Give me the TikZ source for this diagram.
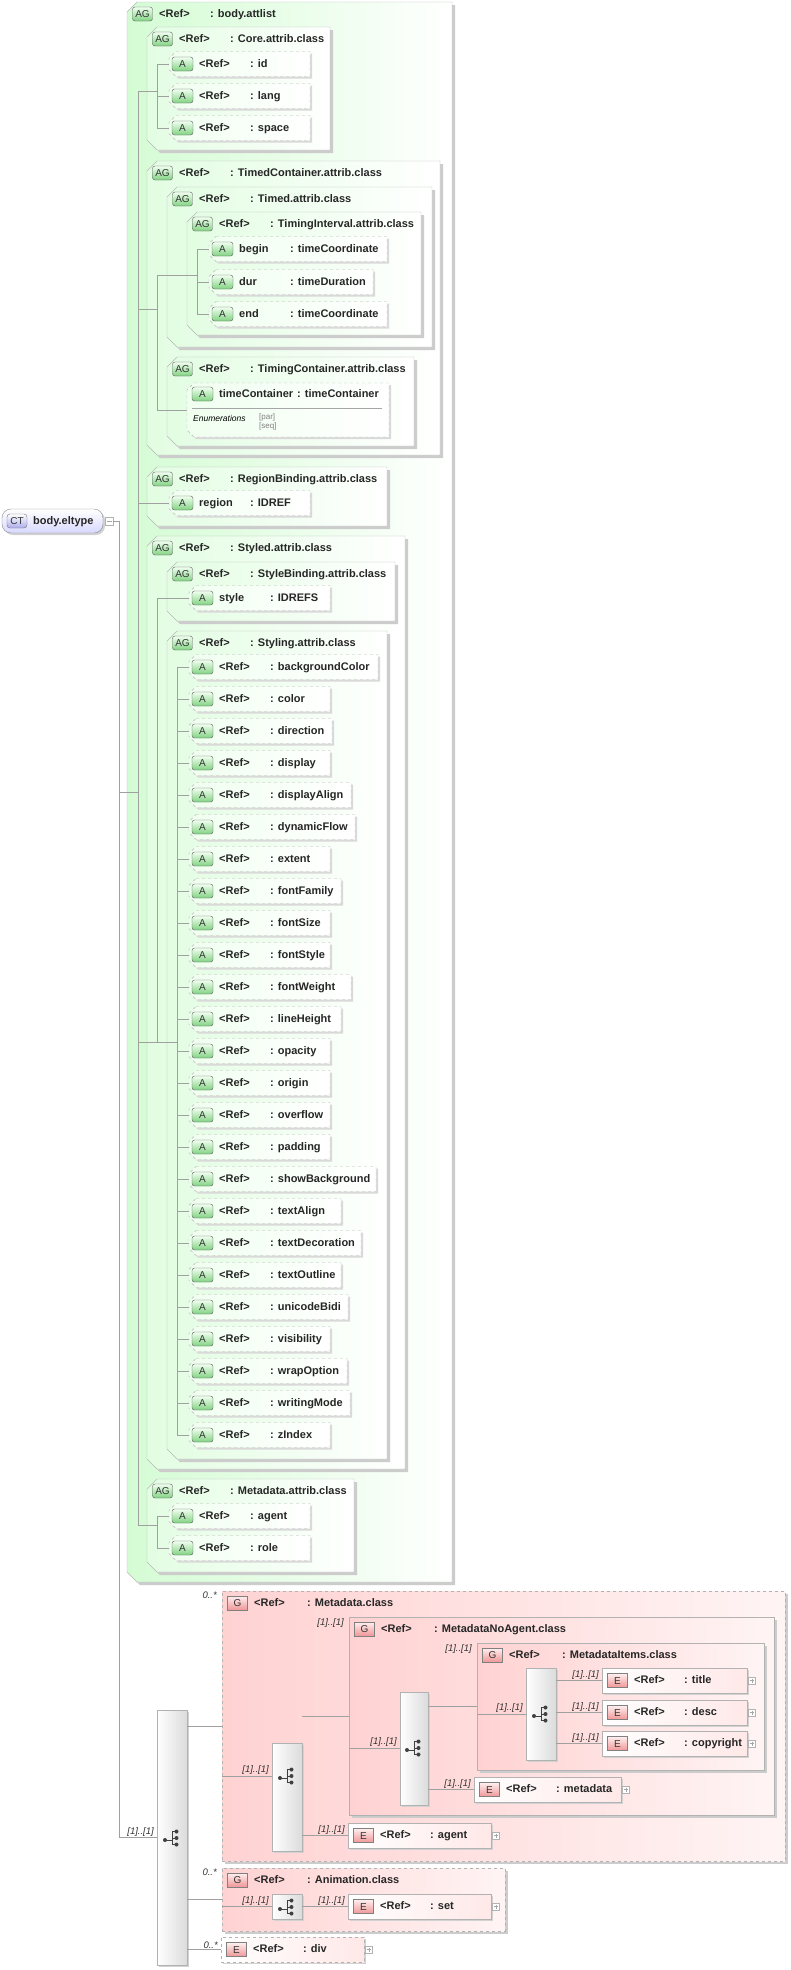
\documentclass[tikz,border=0pt]{standalone}
\usepackage{fontspec}
\setmainfont{Liberation Sans}
\usetikzlibrary{shadows}
\definecolor{attlistL}{RGB}{212,252,212}
\definecolor{agL}{RGB}{226,253,226}
\definecolor{tagG}{RGB}{130,210,130}
\definecolor{pinkL}{RGB}{255,210,210}
\definecolor{pinkR}{RGB}{255,244,244}
\definecolor{tagR}{RGB}{240,150,150}
\definecolor{ctL}{RGB}{216,216,255}
\definecolor{tagB}{RGB}{172,172,236}
\definecolor{lineC}{RGB}{160,160,160}

% chamfered outline round a named node
\newcommand\chamferbox[3]{%
  \path[#1] ([xshift=#3]#2.north west) -- (#2.north east) -- (#2.south east)
    -- ([xshift=#3]#2.south west) -- ([yshift=#3]#2.south west)
    -- ([yshift=-#3]#2.north west) -- cycle;}
% attribute group
\newcommand\agbox[7][]{%
  \node[boxnode, minimum width={(#5-#3)*1pt}, minimum height={(#6-#4)*1pt}] (#2) at (#3,#4) {};
  \chamferbox{agfill,#1}{#2}{10pt}
  \node[agtag] (#2-tag) at ([shift={(15.5pt,-12pt)}]#2.north west) {AG};
  \node[reftext] (#2-ref) at ([shift={(32pt,-12pt)}]#2.north west) {<Ref>};
  \node[reftext] (#2-name) at ([shift={(83pt,-12pt)}]#2.north west) {: #7};}
% attribute
\newcommand\attrow[7][78]{%
  \node[boxnode, minimum width={(#5-#3+3)*1pt}, minimum height=25pt, anchor=west] (#2) at (#3-3,#4) {};
  \chamferbox{attfill}{#2}{7pt}
  \node[atag] (#2-tag) at (#3+10.5,#4) {A};
  \node[reftext] (#2-ref) at (#3+27,#4) {#6};
  \node[reftext] (#2-type) at (#3+#1,#4) {: #7};}
% element
\newcommand\elbox[6][solid]{%
  \node[boxnode, elfill, #1, minimum width={(#5-#3)*1pt}, minimum height=25pt] (#2) at (#3,#4) {};
  \node[etag] (#2-tag) at ([xshift=15.5pt]#2.west) {E};
  \node[reftext] (#2-ref) at ([xshift=32pt]#2.west) {<Ref>};
  \node[reftext] (#2-name) at ([xshift=82pt]#2.west) {: #6};
  \node[plusbox] (#2-plus) at ([xshift=5pt]#2.east) {};}
% group
\newcommand\gbox[8][solid]{%
  \node[boxnode, gfill, #1, minimum width={(#5-#3)*1pt}, minimum height={(#6-#4)*1pt}] (#2) at (#3,#4) {};
  \node[gtag] (#2-tag) at ([shift={(15.5pt,-12pt)}]#2.north west) {G};
  \node[reftext] (#2-ref) at ([shift={(32pt,-12pt)}]#2.north west) {<Ref>};
  \node[reftext] (#2-name) at ([shift={(85pt,-12pt)}]#2.north west) {: #7};
  \node[occlabel, anchor=north east] (#2-occ) at ([shift={(-5pt,-1pt)}]#2.north west) {#8};}

\begin{document}
\begin{tikzpicture}[x=1pt, y=-1pt,
   boxnode/.style = {rectangle, inner sep=0pt, outer sep=0pt, anchor=north west},
    agfill/.style = {draw=gray!55, left color=agL, right color=white,
                     drop shadow={shadow xshift=3pt, shadow yshift=-3pt, fill=gray!40, opacity=1}},
  attlistfill/.style = {left color=attlistL},
   attfill/.style = {draw=gray!55, dashed, left color=green!6, right color=white,
                     drop shadow={shadow xshift=2pt, shadow yshift=-2pt, fill=gray!30, opacity=1}},
     gfill/.style = {draw=gray!60, left color=pinkL, right color=pinkR,
                     drop shadow={shadow xshift=3pt, shadow yshift=-3pt, fill=gray!40, opacity=1}},
    elfill/.style = {draw=gray!60, left color=white, right color=red!9,
                     drop shadow={shadow xshift=2pt, shadow yshift=-2pt, fill=gray!35, opacity=1}},
   compbox/.style = {boxnode, draw=gray!60, left color=white, right color=gray!28, minimum width=30pt,
                     drop shadow={shadow xshift=2pt, shadow yshift=-2pt, fill=gray!35, opacity=1}},
    ctnode/.style = {boxnode, rounded corners=9pt, draw=black!45, top color=white, bottom color=ctL,
                     drop shadow={shadow xshift=2pt, shadow yshift=-2pt, fill=gray!35, opacity=1}},
   reftext/.style = {anchor=west, inner sep=0pt, text height=8pt, text depth=2pt, text=black!85,
                     font=\fontsize{11}{13}\selectfont\bfseries},
      atag/.style = {rectangle, rounded corners=2.5pt, draw=black!65, top color=green!6, bottom color=tagG,
                     minimum width=21pt, minimum height=14pt, inner sep=0pt, text height=7pt, text depth=0pt,
                     font=\fontsize{10}{12}\selectfont, text=black!80},
     agtag/.style = {atag, minimum width=20pt},
      etag/.style = {atag, rounded corners=0pt, draw=black!50, top color=red!6, bottom color=tagR, minimum width=20pt},
      gtag/.style = {etag},
     cttag/.style = {atag, rounded corners=3pt, draw=black!55, top color=white, bottom color=tagB, minimum width=20pt},
  occlabel/.style = {inner sep=0pt, text=black!80, font=\fontsize{9.5}{11}\selectfont\itshape},
  enumtext/.style = {anchor=west, inner sep=0pt, font=\fontsize{8.5}{10}\selectfont\itshape},
   enumval/.style = {anchor=west, inner sep=0pt, text=gray, font=\fontsize{8}{9}\selectfont},
   plusbox/.style = {rectangle, draw=gray!60, fill=white, minimum size=7pt, inner sep=0pt,
                     path picture={\draw[gray!70] ([xshift=1.5pt]path picture bounding box.west) -- ([xshift=-1.5pt]path picture bounding box.east)
                                   ([yshift=-1.5pt]path picture bounding box.north) -- ([yshift=1.5pt]path picture bounding box.south);}},
  minusbox/.style = {rectangle, draw=gray!60, fill=white, minimum size=8pt, inner sep=0pt,
                     path picture={\draw[gray!70] ([xshift=1.5pt]path picture bounding box.west) -- ([xshift=-1.5pt]path picture bounding box.east);}},
   busline/.style = {to path={|- (\tikztotarget)}},
   every edge/.style = {draw, lineC, line width=0.8pt},
   seqicon/.pic = {
     \draw[black!75, line width=0.9pt] (-7,2) -- (0,2) (0,-6.5) -- (0,6.5) (0,-6.5) -- (4,-6.5) (0,0) -- (4,0) (0,6.5) -- (4,6.5);
     \fill[black!75] (-7,2) circle (2pt) (4.5,-6.5) circle (2pt) (4.5,0) circle (2pt) (4.5,6.5) circle (2pt);}
]
  \fill[white] (0,0) rectangle (790,1970);
  \useasboundingbox (0,0) rectangle (790,1970);

  % COMPLEX TYPE
  \node[ctnode, minimum width=101pt, minimum height=24pt] (eltype) at (2,509) {};
  \node[cttag] (eltype-tag) at (17,521) {CT};
  \node[reftext] (eltype-name) at (33,521) {body.eltype};
  \node[minusbox] (eltype-minus) at (109,521) {};

  % ATTRIBUTES
  \agbox[attlistfill]{attlist}{127}{2}{452}{1582}{body.attlist}
  \agbox{core}{147}{27}{330}{150}{Core.attrib.class}
  \attrow{id}{172}{64}{310}{<Ref>}{id}
  \attrow{lang}{172}{96}{310}{<Ref>}{lang}
  \attrow{space}{172}{128}{310}{<Ref>}{space}

  \agbox{timedc}{147}{161}{440}{455}{TimedContainer.attrib.class}
  \agbox{timed}{167}{187}{432}{347}{Timed.attrib.class}
  \agbox{tinterval}{187}{212}{421}{335}{TimingInterval.attrib.class}
  \attrow{tbegin}{212}{249}{387}{begin}{timeCoordinate}
  \attrow{tdur}{212}{282}{373}{dur}{timeDuration}
  \attrow{tend}{212}{314}{387}{end}{timeCoordinate}
  \agbox{tcontainer}{167}{357}{414}{446}{TimingContainer.attrib.class}
  \node[boxnode, minimum width=202pt, minimum height=54pt] (tcont) at (187,383) {};
  \chamferbox{attfill}{tcont}{7pt}
  \node[atag] (tcont-tag) at (202.5,394) {A};
  \node[reftext] (tcont-ref) at (219,394) {timeContainer};
  \node[reftext] (tcont-type) at (297,394) {: timeContainer};
  \draw[gray!70] ([shift={(5pt,-25pt)}]tcont.north west) -- ([shift={(-7pt,-25pt)}]tcont.north east);
  \node[enumtext] (tcont-enum) at (193,418) {Enumerations};
  \node[enumval] (tcont-par) at (259,417) {[par]};
  \node[enumval] (tcont-seq) at (259,426) {[seq]};

  \agbox{regionb}{147}{467}{387}{526}{RegionBinding.attrib.class}
  \attrow{regionatt}{172}{503}{310}{region}{IDREF}

  \agbox{styled}{147}{536}{405}{1469}{Styled.attrib.class}
  \agbox{stylebind}{167}{562}{395}{621}{StyleBinding.attrib.class}
  \attrow{styleatt}{192}{598}{330}{style}{IDREFS}
  \agbox{styling}{167}{631}{387}{1459}{Styling.attrib.class}
  \foreach \n/\r [count=\k from 0] in {backgroundColor/378, color/330, direction/332, display/330,
      displayAlign/351, dynamicFlow/355, extent/330, fontFamily/341, fontSize/330, fontStyle/330,
      fontWeight/351, lineHeight/341, opacity/330, origin/330, overflow/330, padding/330,
      showBackground/376, textAlign/341, textDecoration/361, textOutline/341, unicodeBidi/348,
      visibility/330, wrapOption/347, writingMode/350, zIndex/330}
    {\attrow{sty-\n}{192}{667+32*\k}{\r}{<Ref>}{\n}}

  \agbox{mdattrib}{147}{1479}{354}{1572}{Metadata.attrib.class}
  \attrow{agentatt}{172}{1516}{310}{<Ref>}{agent}
  \attrow{roleatt}{172}{1548}{310}{<Ref>}{role}

  % CONTENT
  \node[compbox, minimum height=255pt] (seqo) at (157,1710) {};
  \pic at (172,1838) {seqicon};
  \gbox[dashed]{mdclass}{222}{1591}{785}{1861}{Metadata.class}{0..*}
  \node[compbox, minimum height=108pt] (mdseq) at (272,1743) {};
  \pic at (287,1776) {seqicon};
  \gbox{noagent}{349}{1617}{774}{1815}{MetadataNoAgent.class}{[1]..[1]}
  \node[compbox, minimum width=28pt, minimum height=113pt] (naseq) at (400,1692) {};
  \pic at (414,1748) {seqicon};
  \gbox{items}{477}{1643}{764}{1770}{MetadataItems.class}{[1]..[1]}
  \node[compbox, minimum height=92pt] (choice) at (526,1668) {};
  \pic at (541,1714) {seqicon};
  \elbox{title}{602}{1668}{747}{title}
  \elbox{desc}{602}{1700}{747}{desc}
  \elbox{copyright}{602}{1731}{747}{copyright}
  \elbox{metadata}{474}{1777}{621}{metadata}
  \elbox{agent}{348}{1823}{491}{agent}
  \gbox[dashed]{anim}{222}{1868}{505}{1931}{Animation.class}{0..*}
  \node[compbox, minimum height=25pt] (animseq) at (272,1894) {};
  \pic at (287,1907) {seqicon};
  \elbox{set}{348}{1894}{491}{set}
  \elbox[dashed]{div}{221}{1937}{364}{div}

  % Bus points
  \coordinate (ctbus) at (119,521);
  \coordinate (attbus) at (138,792);
  \coordinate (corebus) at (157,91);
  \coordinate (tcbus) at (157,309);
  \coordinate (tibus) at (197,275);
  \coordinate (styledbus) at (157,1042);
  \coordinate (stylingbus) at (177,1042);
  \coordinate (mdattbus) at (157,1525);
  \coordinate (mdclass-in) at (222,1726);
  \coordinate (mdseq-in) at (272,1776);
  \coordinate (noagent-in) at (349,1716);
  \coordinate (naseq-in) at (400,1748);
  \coordinate (items-in) at (477,1706);
  \coordinate (anim-in) at (222,1899);

  % Edges
  \path (eltype-minus.east) edge (ctbus);
  \path (ctbus) edge[busline] (attbus) edge[busline] (seqo);
  \path (attbus) edge[busline] (corebus) edge[busline] (tcbus) edge[busline] (regionatt)
                 edge[busline] (styledbus) edge[busline] (mdattbus);
  \path (corebus) edge[busline] (id) edge[busline] (lang) edge[busline] (space);
  \path (tcbus) edge[busline] (tibus) edge[busline] (tcont);
  \path (tibus) edge[busline] (tbegin) edge[busline] (tdur) edge[busline] (tend);
  \path (styledbus) edge[busline] (styleatt) edge (stylingbus);
  \foreach \n in {backgroundColor, color, direction, display, displayAlign, dynamicFlow, extent,
      fontFamily, fontSize, fontStyle, fontWeight, lineHeight, opacity, origin, overflow, padding,
      showBackground, textAlign, textDecoration, textOutline, unicodeBidi, visibility, wrapOption,
      writingMode, zIndex}
    {\path (stylingbus) edge[busline] (sty-\n);}
  \path (mdattbus) edge[busline] (agentatt) edge[busline] (roleatt);

  \path (seqo.east |- mdclass-in) edge (mdclass-in);
  \path (seqo.east |- anim-in) edge (anim-in);
  \path (seqo.east |- div) edge (div);
  \path (mdclass.west |- mdseq-in) edge (mdseq-in);
  \path (mdseq.east |- noagent-in) edge (noagent-in);
  \path (mdseq.east |- agent) edge (agent);
  \path (noagent.west |- naseq-in) edge (naseq-in);
  \path (naseq.east |- items-in) edge (items-in);
  \path (naseq.east |- metadata) edge (metadata);
  \path (items.west |- choice) edge (choice);
  \path (choice.east |- title) edge (title);
  \path (choice.east |- desc) edge (desc);
  \path (choice.east |- copyright) edge (copyright);
  \path (anim.west |- animseq) edge (animseq);
  \path (animseq.east |- set) edge (set);

  % Occurrences
  \node[occlabel, anchor=south east] (seqo-occ) at ([shift={(-3pt,1pt)}]seqo.west) {[1]..[1]};
  \node[occlabel, anchor=south east] (mdseq-occ) at ([shift={(-3pt,1pt)}]mdseq-in) {[1]..[1]};
  \node[occlabel, anchor=south east] (naseq-occ) at ([shift={(-3pt,1pt)}]naseq-in) {[1]..[1]};
  \node[occlabel, anchor=south east] (choice-occ) at ([shift={(-3pt,1pt)}]choice.west) {[1]..[1]};
  \node[occlabel, anchor=south east] (animseq-occ) at ([shift={(-3pt,1pt)}]animseq.west) {[1]..[1]};
  \foreach \e in {title, desc, copyright, metadata, agent, set}
    {\node[occlabel, anchor=south east] (\e-occ) at ([shift={(-3pt,1pt)}]\e.west) {[1]..[1]};}
  \node[occlabel, anchor=south east] (div-occ) at ([shift={(-3pt,1pt)}]div.west) {0..*};
\end{tikzpicture}
\end{document}
